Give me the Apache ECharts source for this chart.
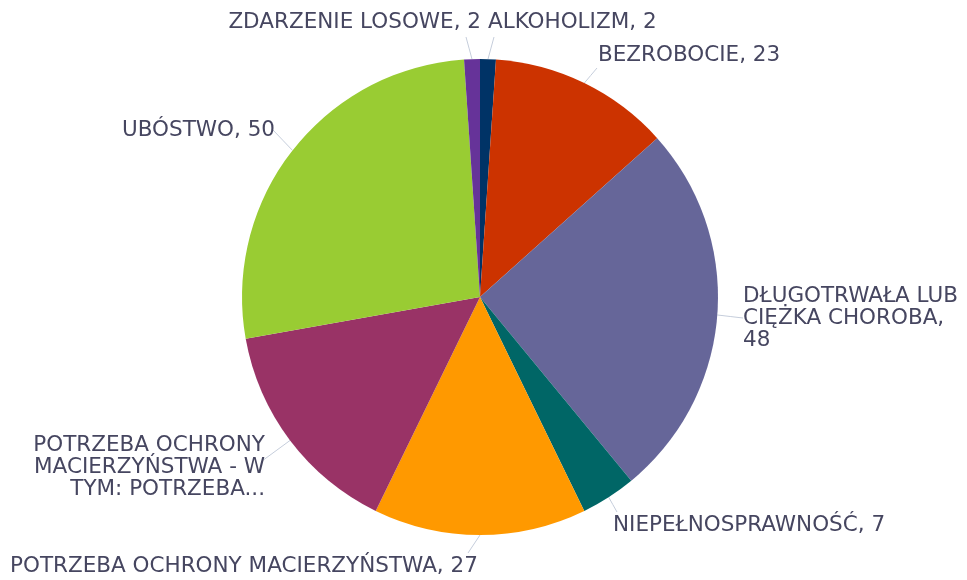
<!DOCTYPE html>
<html>
<head>
<meta charset="utf-8">
<script src="https://cdn.jsdelivr.net/npm/echarts@6/dist/echarts.min.js"></script>
<style>html,body{margin:0;padding:0;background:#fff}#c{width:967px;height:580px}</style>
</head>
<body>
<div id="c"></div>
<script>
const categories = [
  "ALKOHOLIZM",
  "BEZROBOCIE",
  "DŁUGOTRWAŁA LUB CIĘŻKA CHOROBA",
  "NIEPEŁNOSPRAWNOŚĆ",
  "POTRZEBA OCHRONY MACIERZYŃSTWA",
  "POTRZEBA OCHRONY MACIERZYŃSTWA - W TYM: POTRZEBA...",
  "UBÓSTWO",
  "ZDARZENIE LOSOWE"
];
const values = [2, 23, 48, 7, 27, 28, 50, 2];
const colors = ["#003366", "#CC3300", "#666699", "#006666", "#FF9900", "#993366", "#99CC33", "#663399"];
// label texts as displayed (wrapped like the original)
const labelTexts = [
  "ALKOHOLIZM, 2",
  "BEZROBOCIE, 23",
  "DŁUGOTRWAŁA LUB\nCIĘŻKA CHOROBA,\n48",
  "NIEPEŁNOSPRAWNOŚĆ, 7",
  "POTRZEBA OCHRONY MACIERZYŃSTWA, 27",
  "POTRZEBA OCHRONY\nMACIERZYŃSTWA - W\nTYM: POTRZEBA...",
  "UBÓSTWO, 50",
  "ZDARZENIE LOSOWE, 2"
];

// label placement (layout only): text anchor and leader-line end
const labelPos = [
  {x: 488, y: 22, align: 'left',  ex: 494, ey: 37},
  {x: 598, y: 55, align: 'left',  ex: 597, ey: 68},
  {x: 743, y: 318, align: 'left', ex: 743, ey: 318},
  {x: 613, y: 525, align: 'left', ex: 617, ey: 512},
  {x: 10, y: 566, align: 'left',  ex: 468, ey: 553},
  {x: 265, y: 467, align: 'right', ex: 262, ey: 461},
  {x: 275, y: 130, align: 'right', ex: 273, ey: 130},
  {x: 481, y: 22, align: 'right', ex: 466, ey: 37}
];

const chart = echarts.init(document.getElementById('c'), null, {renderer: 'canvas'});
const data = categories.map((n, i) => ({
  name: n,
  value: values[i],
  itemStyle: {color: colors[i]},
  label: {
    formatter: labelTexts[i],
    align: labelPos[i].align
  }
}));
chart.setOption({
  animation: false,
  series: [{
    type: 'pie',
    center: [480, 297],
    radius: [0, 238],
    startAngle: 90,
    clockwise: true,
    data: data,
    itemStyle: {borderWidth: 0},
    label: {
      show: true,
      position: 'outside',
      color: '#464660',
      fontFamily: 'DejaVu Sans',
      fontSize: 21.5,
      lineHeight: 22,
      overflow: 'none'
    },
    labelLine: {
      show: true,
      length: 10,
      length2: 10,
      smooth: false,
      lineStyle: {color: '#c5cddb', width: 1}
    },
    labelLayout: function (p) {
      const lp = labelPos[p.dataIndex];
      const out = {x: lp.x, y: lp.y, align: lp.align, verticalAlign: 'middle'};
      if (p.labelLinePoints && p.labelLinePoints.length) {
        const s = p.labelLinePoints[0];
        const e = [lp.ex, lp.ey];
        out.labelLinePoints = [s, [(s[0] + e[0]) / 2, (s[1] + e[1]) / 2], e];
      }
      return out;
    }
  }]
});
</script>
</body>
</html>
